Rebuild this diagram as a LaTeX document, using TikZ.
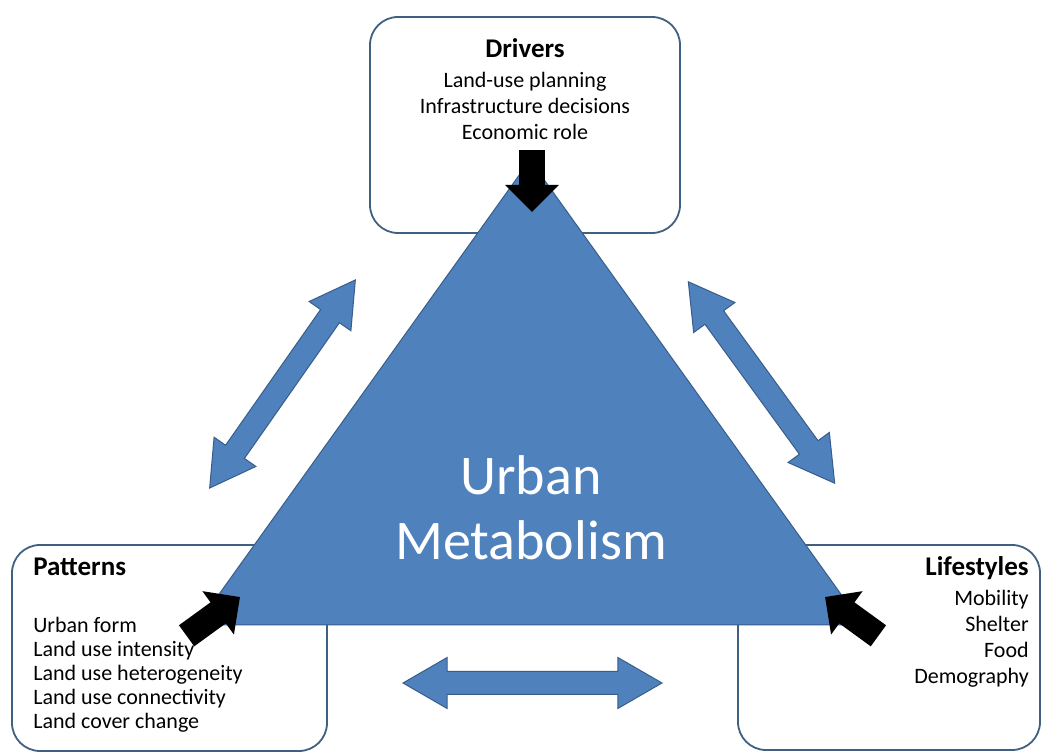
\documentclass[tikz,border=0pt]{standalone}
\usepackage{fontspec}
\setmainfont{Carlito}
\usetikzlibrary{arrows.meta,positioning,shapes.arrows}
\definecolor{triblue}{RGB}{79,129,189}
\definecolor{triedge}{RGB}{56,93,138}
\definecolor{boxedge}{RGB}{64,96,130}
\newcommand\ttlfont{\fontsize{27}{27}\selectfont\bfseries}

\begin{document}
\begin{tikzpicture}[
  x=1pt,y=1pt,
  box/.style={draw=boxedge, line width=1.8pt, rounded corners=28pt, fill=white, inner sep=0pt},
  txt/.style={inner sep=0pt, font=\fontsize{22}{24}\selectfont},
  twoway/.style={double arrow, draw=triedge, fill=triblue, line width=1pt, inner sep=11pt, double arrow head extend=14pt, double arrow tip angle=60},
  push/.style={line width=26pt, -{Triangle[length=27pt,width=52pt]}, black}
]
\useasboundingbox (0,0) rectangle (1042,754);
\node[box, minimum width=310pt, minimum height=216pt] (drivers) at (525,629) {};
\node[box, minimum width=315pt, minimum height=206pt] (patterns) at (169.5,106) {};
\node[box, minimum width=302pt, minimum height=205pt] (lifestyles) at (889,106.5) {};
\node[txt, align=center, font=\fontsize{22}{26}\selectfont, below=22pt of drivers.north] (drvtext) {{\ttlfont Drivers}\\[4pt]Land-use planning\\Infrastructure decisions\\Economic role};
\node[txt, align=left, below right=14pt and 22pt of patterns.north west] (pattext) {{\ttlfont Patterns}\\[33pt]Urban form\\Land use intensity\\Land use heterogeneity\\Land use connectivity\\Land cover change};
\node[txt, align=right, font=\fontsize{22}{26}\selectfont, below left=12pt and 12pt of lifestyles.north east] (lifetext) {{\ttlfont Lifestyles}\\[4pt]Mobility\\Shelter\\Food\\Demography};
% the triangle
\coordinate (apex) at (530,594);
\coordinate (left) at (197,129);
\coordinate (right) at (863,129);
\draw[draw=triedge, fill=triblue, line width=1pt] (apex) -- (left) -- (right) -- cycle;
\node[text=white, align=center, font=\fontsize{56}{65}\selectfont] (metab) at (531,246) {Urban\\Metabolism};
% feedback between the corners
\node[twoway, minimum height=254pt, rotate=55] (patdrv) at (282.5,370) {};
\node[twoway, minimum height=249pt, rotate=-54] (drvlife) at (761.5,371.5) {};
\node[twoway, minimum height=259pt] (patlife) at (532.5,71) {};
% inputs into the triangle
\coordinate (drvtail) at (532,604);
\coordinate (drvtip) at (532,542);
\coordinate (pattail) at (186.6,118.2);
\coordinate (pattip) at (240,157);
\coordinate (lifetail) at (878.4,118.2);
\coordinate (lifetip) at (825,157);
\draw[push] (drvtail) -- (drvtip);
\draw[push] (pattail) -- (pattip);
\draw[push] (lifetail) -- (lifetip);
\end{tikzpicture}
\end{document}
